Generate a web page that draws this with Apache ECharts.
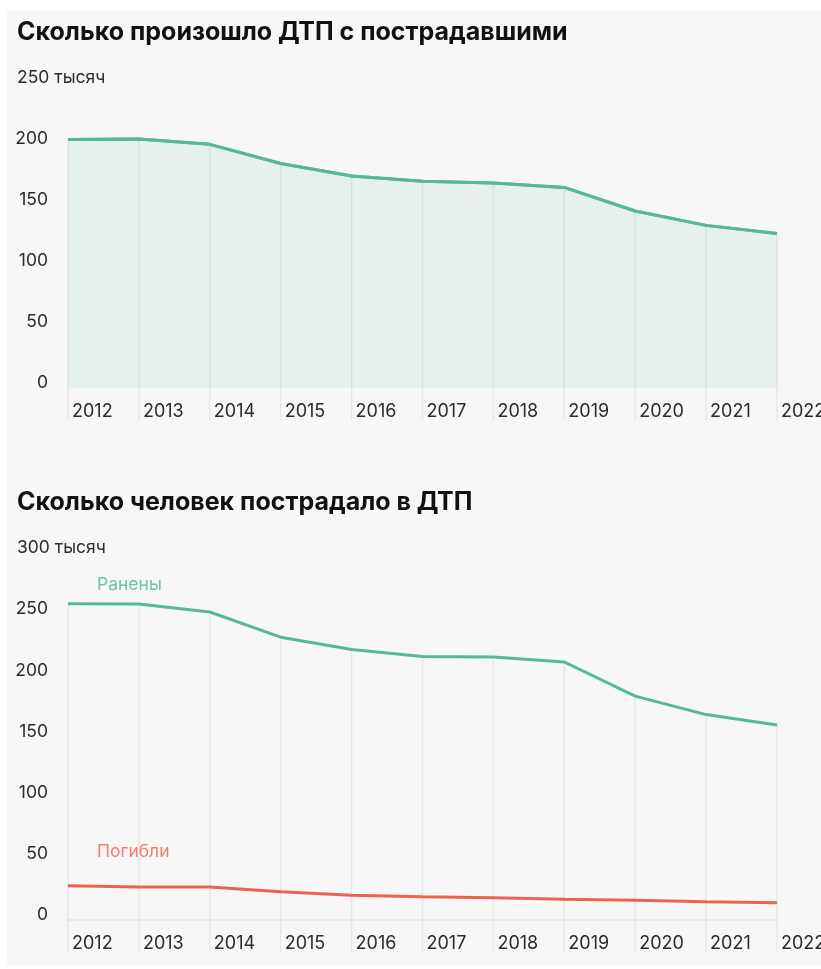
<!DOCTYPE html>
<html><head><meta charset="utf-8">
<script src="https://cdn.jsdelivr.net/npm/echarts@6/dist/echarts.min.js"></script>
<style>
html,body{margin:0;padding:0;background:#fff;overflow:hidden;}
#bg{position:absolute;left:7px;top:10px;width:814px;height:955px;background:#f7f7f7;}
#c{position:absolute;left:0;top:0;width:821px;height:969px;}
</style></head>
<body><div id="bg"></div><div id="c"></div>
<script>
const years = ['2012','2013','2014','2015','2016','2017','2018','2019','2020','2021','2022'];
const accidents = [203.6, 204.1, 199.7, 184.0, 173.7, 169.4, 168.1, 164.4, 145.1, 133.3, 126.7];
const injured = [258.6, 258.4, 251.8, 231.2, 221.1, 215.4, 214.9, 210.9, 183.0, 167.9, 159.4];
const killed = [28.0, 27.0, 27.0, 23.1, 20.3, 19.1, 18.2, 17.0, 16.2, 14.9, 14.2];
const yTicks1 = [0, 50, 100, 150, 200, 250];
const yTicks2 = [0, 50, 100, 150, 200, 250, 300];
const title1 = 'Сколько произошло ДТП с пострадавшими';
const title2 = 'Сколько человек пострадало в ДТП';
const unit = 'тысяч';
const nameInjured = 'Ранены';
const nameKilled = 'Погибли';

const FONT = 'Inter';
const TEAL = '#55b89d';
const RED = '#f0604f';

function yAxisCfg(idx, ticks) {
  const max = ticks[ticks.length - 1];
  return {
    gridIndex: idx, type: 'value', min: ticks[0], max: max, interval: ticks[1] - ticks[0],
    axisLine: {show: false}, axisTick: {show: false}, splitLine: {show: false},
    axisLabel: {
      align: 'left', margin: 51, padding: [0, 0, 10, 0],
      formatter: v => v === max ? '{m|' + v + ' ' + unit + '}' : '{n|' + v + '}',
      rich: {
        n: {width: 31, align: 'right', fontFamily: FONT, fontSize: 17.5, color: '#2b2b2b'},
        m: {fontFamily: FONT, fontSize: 17.5, color: '#2b2b2b'}
      }
    }
  };
}
function xAxisCfg(idx, showLine) {
  return {
    gridIndex: idx, type: 'category', data: years, boundaryGap: false,
    axisLine: {show: showLine, lineStyle: {color: '#e6e6e6', width: 1.5}},
    axisTick: {show: false}, splitLine: {show: false},
    axisLabel: {align: 'left', margin: 15, padding: [0, 0, 0, 4], interval: 0,
      fontFamily: FONT, fontSize: 18, color: '#2b2b2b'}
  };
}
function dropLines(idx, values, color) {
  return {
    type: 'custom', xAxisIndex: idx, yAxisIndex: idx, silent: true, z: 1,
    data: values.map((v, i) => [i, v]),
    renderItem: (params, api) => {
      const top = api.coord([api.value(0), api.value(1)]);
      const bot = api.coord([api.value(0), 0]);
      return {type: 'line', shape: {x1: top[0], y1: top[1], x2: top[0], y2: bot[1] + 32},
        style: {stroke: color, lineWidth: 1.5}};
    }
  };
}
function seriesLabel(text, value, color, dy) {
  return {
    symbol: 'circle', symbolSize: 0, silent: true,
    data: [{coord: [0, value], label: {show: true, formatter: text, position: 'top', align: 'left',
      offset: [29, dy], color: color, fontFamily: FONT, fontSize: 17.5}}]
  };
}

const chart = echarts.init(document.getElementById('c'), null, {renderer: 'canvas'});
chart.setOption({
  animation: false,
  backgroundColor: 'transparent',
  title: [
    {text: title1, left: 12, top: 15, textStyle: {fontFamily: FONT, fontWeight: 'bold', fontSize: 25, color: '#111'}},
    {text: title2, left: 12, top: 485, textStyle: {fontFamily: FONT, fontWeight: 'bold', fontSize: 25, color: '#111'}}
  ],
  grid: [
    {left: 68, right: 44, top: 83, bottom: 581, outerBoundsMode: 'none', containLabel: false},
    {left: 68, right: 44, top: 553, bottom: 49, outerBoundsMode: 'none', containLabel: false}
  ],
  xAxis: [xAxisCfg(0, false), xAxisCfg(1, true)],
  yAxis: [yAxisCfg(0, yTicks1), yAxisCfg(1, yTicks2)],
  series: [
    dropLines(0, accidents, 'rgba(0,0,0,0.06)'),
    {type: 'line', xAxisIndex: 0, yAxisIndex: 0, data: accidents, z: 0, symbol: 'none',
      lineStyle: {color: TEAL, width: 3}, areaStyle: {color: '#e6f0ed', opacity: 1}},
    {type: 'line', xAxisIndex: 0, yAxisIndex: 0, data: accidents, z: 3, symbol: 'none',
      lineStyle: {color: TEAL, width: 3}},
    dropLines(1, injured, 'rgba(0,0,0,0.06)'),
    {type: 'line', xAxisIndex: 1, yAxisIndex: 1, data: injured, z: 3, symbol: 'none',
      lineStyle: {color: TEAL, width: 3}, markPoint: seriesLabel(nameInjured, injured[0], '#6cc4ac', -5)},
    {type: 'line', xAxisIndex: 1, yAxisIndex: 1, data: killed, z: 3, symbol: 'none',
      lineStyle: {color: RED, width: 3}, markPoint: seriesLabel(nameKilled, killed[0], '#f47f70', -20)}
  ]
});
</script></body></html>
